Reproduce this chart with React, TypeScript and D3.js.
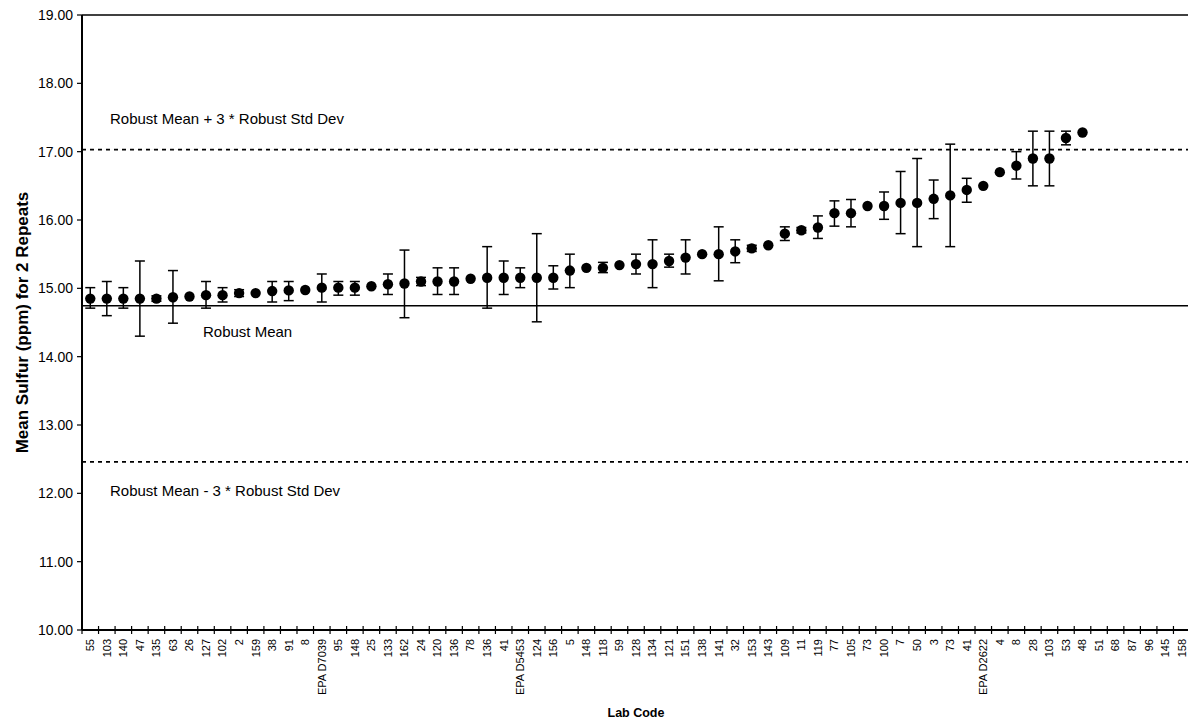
import React from "react";
import * as d3 from "d3";

const labCodes = ["55","103","140","47","135","63","26","127","102","2","159","38","91","8","EPA D7039","95","148","25","133","162","24","120","136","78","136","41","EPA D5453","124","156","5","148","118","59","128","134","121","151","138","141","32","153","143","109","11","119","77","105","73","100","7","50","3","73","41","EPA D2622","4","8","28","103","53","48","51","68","87","96","145","158"];

const meanValues = [14.85,14.85,14.85,14.85,14.85,14.87,14.88,14.9,14.9,14.93,14.93,14.96,14.97,14.975,15.01,15.01,15.01,15.03,15.06,15.07,15.1,15.1,15.1,15.14,15.155,15.155,15.155,15.155,15.155,15.26,15.3,15.3,15.34,15.355,15.355,15.4,15.45,15.5,15.5,15.54,15.585,15.63,15.8,15.85,15.89,16.1,16.1,16.205,16.205,16.25,16.25,16.31,16.36,16.44,16.5,16.7,16.795,16.9,16.9,17.2,17.28];

const lowValues: (number | null)[] = [14.71,14.6,14.71,14.3,14.81,14.49,null,14.71,14.8,14.88,null,14.8,14.82,null,14.8,14.9,14.9,null,14.91,14.57,15.04,14.91,14.91,null,14.71,14.91,15.01,14.51,14.99,15.01,null,15.23,null,15.21,15.01,15.31,15.21,null,15.11,15.375,15.54,null,15.7,15.81,15.73,15.91,15.9,null,16.01,15.8,15.61,16.02,15.61,16.26,null,null,16.6,16.5,16.5,17.1,null];

const highValues: (number | null)[] = [15.01,15.1,15.01,15.4,14.89,15.26,null,15.1,15.01,14.98,null,15.1,15.1,null,15.21,15.1,15.1,null,15.21,15.56,15.16,15.3,15.3,null,15.61,15.4,15.3,15.8,15.33,15.5,null,15.38,null,15.5,15.71,15.5,15.71,null,15.9,15.71,15.63,null,15.9,15.89,16.06,16.28,16.3,null,16.41,16.71,16.9,16.585,17.11,16.61,null,null,17.0,17.3,17.3,17.3,null];

const yTickValues = [10, 11, 12, 13, 14, 15, 16, 17, 18, 19];

const robustMean = 14.745;
const upperLimit = 17.03;
const lowerLimit = 12.46;

const W = 1188;
const H = 723;
const left = 82;
const right = 1190;
const top = 15;
const bottom = 630;
const FONT = "'Liberation Sans', Arial, sans-serif";

export default function App() {
  const x = d3.scaleBand<number>().domain(d3.range(labCodes.length)).range([left, right]).paddingInner(0).paddingOuter(0);
  const y = d3.scaleLinear().domain([10, 19]).range([bottom, top]);
  const cx = (i: number) => (x(i) as number) + x.bandwidth() / 2;
  const cap = 5;

  return (
    <svg width={W} height={H} style={{ position: "absolute", left: 0, top: 0, background: "#fff" }} fontFamily={FONT}>
      <rect x={0} y={0} width={W} height={H} fill="#fff" />
      {/* reference lines */}
      <line x1={left} x2={right} y1={y(robustMean)} y2={y(robustMean)} stroke="#000" strokeWidth={1.6} />
      <line x1={left} x2={right} y1={y(upperLimit)} y2={y(upperLimit)} stroke="#000" strokeWidth={1.6} strokeDasharray="4,4" />
      <line x1={left} x2={right} y1={y(lowerLimit)} y2={y(lowerLimit)} stroke="#000" strokeWidth={1.6} strokeDasharray="4,4" />

      {/* axes frame */}
      <line x1={left} x2={right} y1={top} y2={top} stroke="#000" strokeWidth={1.5} />
      <line x1={left} x2={left} y1={top} y2={bottom} stroke="#000" strokeWidth={2} />
      <line x1={left} x2={right} y1={bottom} y2={bottom} stroke="#000" strokeWidth={2} />

      {/* y ticks */}
      {yTickValues.map((v) => (
        <g key={"yt" + v}>
          <line x1={left - 5} x2={left} y1={y(v)} y2={y(v)} stroke="#000" strokeWidth={1.2} />
          <text x={left - 9} y={y(v)} dy="0.35em" textAnchor="end" fontSize={14} fill="#000">
            {d3.format(".2f")(v)}
          </text>
        </g>
      ))}

      {/* x ticks */}
      {d3.range(labCodes.length).map((i) => {
        const xx = x(i) as number;
        return <line key={"xt" + i} x1={xx} x2={xx} y1={bottom - 4} y2={bottom + 4} stroke="#000" strokeWidth={1.2} />;
      })}
      {labCodes.map((c, i) => (
        <text
          key={"xl" + i}
          transform={`translate(${cx(i)},${bottom + 9}) rotate(-90)`}
          textAnchor="end"
          dy="0.35em"
          fontSize={11}
          fill="#000"
        >
          {c}
        </text>
      ))}

      {/* error bars */}
      {meanValues.map((m, i) => {
        const lo = lowValues[i];
        const hi = highValues[i];
        if (lo == null || hi == null) return null;
        const xx = cx(i);
        return (
          <g key={"eb" + i} stroke="#000" strokeWidth={1.5}>
            <line x1={xx} x2={xx} y1={y(lo)} y2={y(hi)} />
            <line x1={xx - cap} x2={xx + cap} y1={y(lo)} y2={y(lo)} />
            <line x1={xx - cap} x2={xx + cap} y1={y(hi)} y2={y(hi)} />
          </g>
        );
      })}

      {/* points */}
      {meanValues.map((m, i) => (
        <circle key={"pt" + i} cx={cx(i)} cy={y(m)} r={5.2} fill="#000" />
      ))}

      {/* annotations */}
      <text x={110} y={y(upperLimit) - 26} fontSize={15} fill="#000">Robust Mean + 3 * Robust Std Dev</text>
      <text x={203} y={y(robustMean) + 31} fontSize={15} fill="#000">Robust Mean</text>
      <text x={110} y={y(lowerLimit) + 34} fontSize={15} fill="#000">Robust Mean - 3 * Robust Std Dev</text>

      {/* axis titles */}
      <text
        transform={`translate(28,${(top + bottom) / 2}) rotate(-90)`}
        textAnchor="middle"
        fontSize={17}
        fontWeight="bold"
        fill="#000"
      >
        Mean Sulfur (ppm) for 2 Repeats
      </text>
      <text x={(left + right) / 2} y={717} textAnchor="middle" fontSize={12.5} fontWeight="bold" fill="#000">
        Lab Code
      </text>
    </svg>
  );
}
